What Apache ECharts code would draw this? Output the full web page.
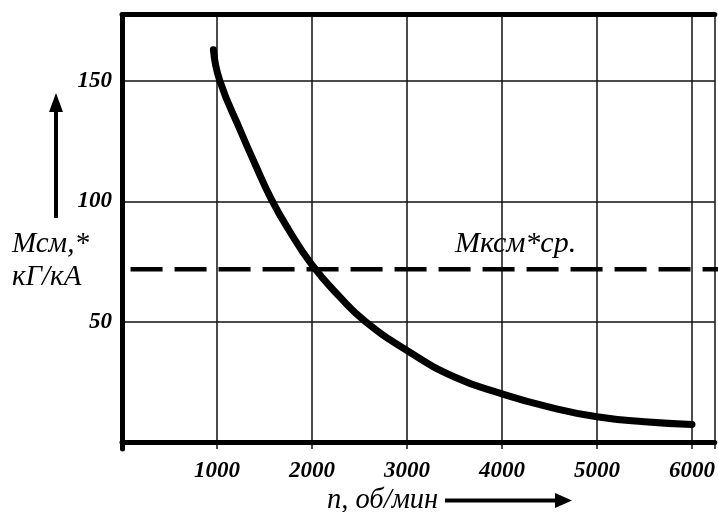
<!DOCTYPE html>
<html>
<head>
<meta charset="utf-8">
<script src="https://cdn.jsdelivr.net/npm/echarts@6/dist/echarts.min.js"></script>
<style>
html,body{margin:0;padding:0;background:#fff}
#main{width:718px;height:512px}
</style>
</head>
<body>
<div id="main"></div>
<script>
// n, об/мин  ->  Мсм*
var rpm    = [962, 1030, 1250, 1400,  1570, 1750, 2000, 2300, 2565, 3000, 3500, 4000, 4500, 5000, 5500, 6000];
var moment = [163, 150,  129,  115.5, 101,  88.5, 73.6, 60,   50,   38,   27,   20,   14.5, 10.5, 8.4,  7.3];
// Мксм*ср. level
var avgLevel = 71.8;
var avgRange = [90, 6300];
var xTicks = [1000, 2000, 3000, 4000, 5000, 6000];
var yTicks = [50, 100, 150];

var serif = '"Liberation Serif", "Times New Roman", serif';

var curve = [];
for (var i = 0; i < rpm.length; i++) {
  curve.push([rpm[i], moment[i]]);
}
var avgLine = [[avgRange[0], avgLevel], [avgRange[1], avgLevel]];

var myChart = echarts.init(document.getElementById('main'));
var option = {
  backgroundColor: '#fff',
  animation: false,
  grid: { left: 122, right: 0, top: 14.5, bottom: 63 },
  xAxis: [{
    type: 'value',
    min: 0,
    max: 6240,
    interval: 1000,
    axisLine: { lineStyle: { color: '#000', width: 5 } },
    axisTick: { show: false },
    splitLine: { lineStyle: { color: '#111', width: 1.5 } },
    axisLabel: {
      margin: 11,
      showMaxLabel: false,
      color: '#000',
      fontFamily: serif,
      fontStyle: 'italic',
      fontWeight: 'bold',
      fontSize: 23,
      formatter: function (v) { return xTicks.indexOf(v) >= 0 ? String(v) : ''; }
    }
  }, {
    type: 'value',
    position: 'top',
    min: 0,
    max: 6240,
    axisLine: { lineStyle: { color: '#000', width: 5 } },
    axisTick: { show: false },
    axisLabel: { show: false },
    splitLine: { show: false }
  }],
  yAxis: {
    type: 'value',
    min: -2.9,
    max: 177.6,
    axisLine: { show: true, lineStyle: { color: '#000', width: 5 } },
    axisTick: { show: false, customValues: yTicks },
    splitLine: { lineStyle: { color: '#111', width: 1.5 } },
    axisLabel: {
      customValues: yTicks,
      margin: 10,
      color: '#000',
      fontFamily: serif,
      fontStyle: 'italic',
      fontWeight: 'bold',
      fontSize: 23
    }
  },
  series: [{
    type: 'line',
    data: avgLine,
    symbol: 'none',
    lineStyle: { color: '#000', width: 4.5, type: [32, 12] }
  }, {
    type: 'line',
    data: curve,
    smooth: 0.5,
    symbol: 'none',
    lineStyle: { color: '#000', width: 7, cap: 'round' }
  }],
  graphic: [{
    type: 'text',
    left: 12,
    top: 228,
    style: {
      text: 'Мсм,*\nкГ/кА',
      fill: '#000',
      font: 'italic 29px ' + serif,
      lineHeight: 33
    }
  }, {
    type: 'line',
    shape: { x1: 56, y1: 218, x2: 56, y2: 106 },
    style: { stroke: '#000', lineWidth: 4 }
  }, {
    type: 'polygon',
    shape: { points: [[56, 93], [49, 112], [63, 112]] },
    style: { fill: '#000' }
  }, {
    type: 'text',
    left: 455,
    top: 229,
    style: {
      text: 'Мксм*ср.',
      fill: '#000',
      font: 'italic 30px ' + serif
    }
  }, {
    type: 'text',
    left: 327,
    top: 486,
    style: {
      text: 'n, об/мин',
      fill: '#000',
      font: 'italic 28.5px ' + serif
    }
  }, {
    type: 'line',
    shape: { x1: 445, y1: 500.5, x2: 560, y2: 500.5 },
    style: { stroke: '#000', lineWidth: 4 }
  }, {
    type: 'polygon',
    shape: { points: [[572, 500.5], [555, 493], [555, 508]] },
    style: { fill: '#000' }
  }]
};
myChart.setOption(option);
</script>
</body>
</html>
